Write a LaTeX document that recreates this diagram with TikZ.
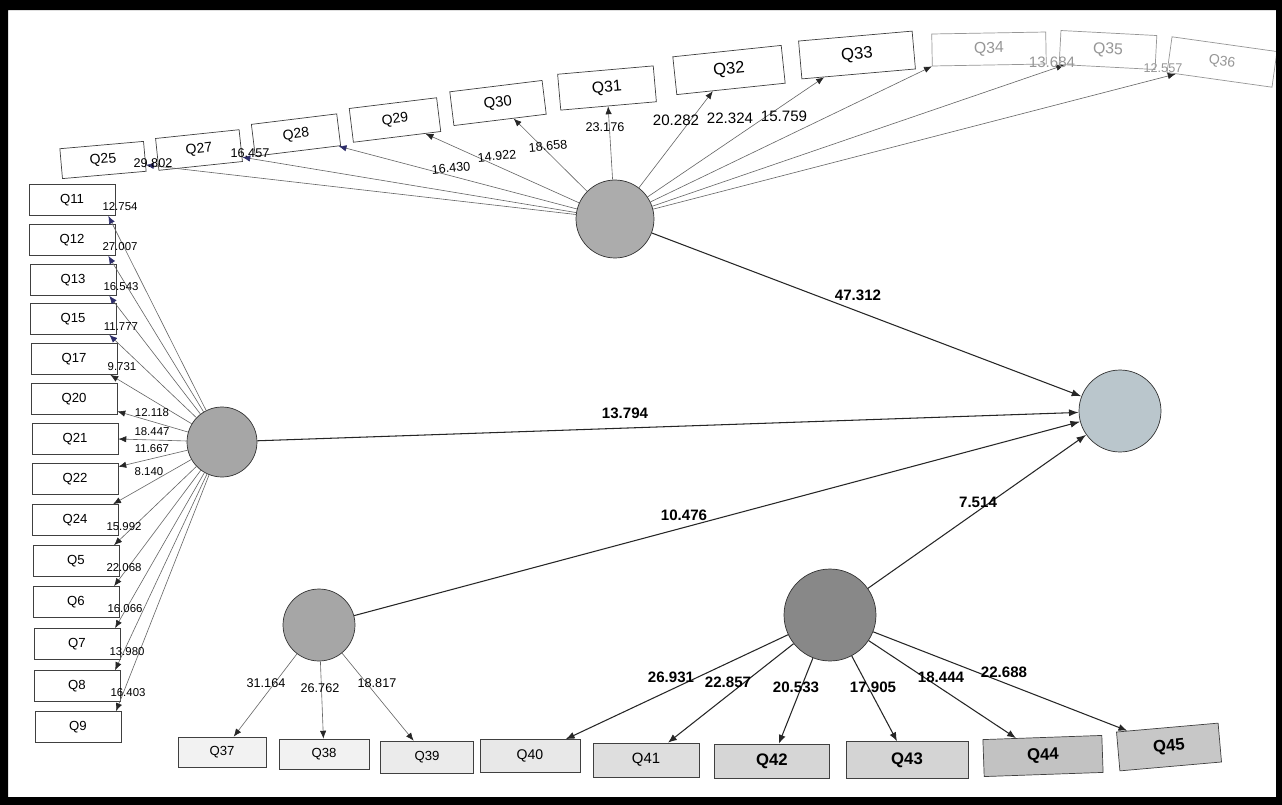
\documentclass[tikz,border=0pt]{standalone}
\usepackage{fontspec}
\setmainfont{Liberation Sans}
\usetikzlibrary{positioning,arrows.meta}

\definecolor{navytip}{RGB}{45,45,105}
\definecolor{latgrey}{RGB}{166,166,166}
\definecolor{topgrey}{RGB}{172,172,172}
\definecolor{endoblue}{RGB}{186,198,204}
\definecolor{darklat}{RGB}{136,136,136}
\definecolor{faint}{RGB}{150,150,150}

\tikzset{
  lat/.style={circle, draw=black!80, fill=latgrey, inner sep=0pt},
  item/.style={draw=black!75, fill=white, inner sep=0pt, minimum width=1.72cm, minimum height=0.62cm, font=\fontsize{7.5}{8}\selectfont},
  fadeitem/.style={item, draw=faint, text=faint},
  load/.style={draw=black!60, line width=0.35pt, -{Latex[length=4.5pt,width=3.6pt,color=black!85]}},
  loadn/.style={load, -{Latex[length=4.5pt,width=3.6pt,color=navytip]}},
  heavy/.style={draw=black!85, line width=0.6pt, -{Latex[length=5pt,width=4pt]}},
  struct/.style={draw=black!85, line width=0.6pt, -{Latex[length=5.5pt,width=4pt]}},
  lab/.style={inner sep=0pt, font=\fontsize{6.5}{7}\selectfont},
  toplab/.style={inner sep=0pt, font=\fontsize{7.2}{8}\selectfont},
  biglab/.style={inner sep=0pt, font=\fontsize{8.6}{9}\selectfont},
  boldlab/.style={inner sep=0pt, font=\fontsize{8.6}{9}\selectfont\bfseries},
}

\begin{document}
\begin{tikzpicture}[x=0.02cm, y=-0.02cm]
\useasboundingbox (0,0) rectangle (1282,805);
\fill[white] (0,0) rectangle (1282,805);

% latent variables
\node[lat, minimum size=1.56cm, fill=topgrey] (tv) at (615,219) {};
\node[lat, minimum size=1.64cm, fill=endoblue] (dv) at (1120,411) {};
\node[lat, minimum size=1.40cm] (lv) at (222,442) {};
\node[lat, minimum size=1.44cm] (bl) at (319,625) {};
\node[lat, minimum size=1.84cm, fill=darklat] (br) at (830,615) {};

% left indicators
\node[item] (q11) at (72,200) {Q11};
\node[item] (q12) at (72,240) {Q12};
\node[item] (q13) at (73,280) {Q13};
\node[item] (q15) at (73,319) {Q15};
\node[item] (q17) at (74,359) {Q17};
\node[item] (q20) at (74,399) {Q20};
\node[item] (q21) at (75,439) {Q21};
\node[item] (q22) at (75,479) {Q22};
\node[item] (q24) at (75,520) {Q24};
\node[item] (q5) at (76,561) {Q5};
\node[item] (q6) at (76,602) {Q6};
\node[item] (q7) at (77,644) {Q7};
\node[item] (q8) at (77,686) {Q8};
\node[item] (q9) at (78,727) {Q9};

% top indicators
\node[item, rotate=5, minimum width=1.68cm, minimum height=0.6cm, font=\fontsize{8}{9}\selectfont] (q25) at (103,160) {Q25};
\node[item, rotate=6, minimum width=1.68cm, minimum height=0.64cm, font=\fontsize{8}{9}\selectfont] (q27) at (199,150) {Q27};
\node[item, rotate=7, minimum width=1.72cm, minimum height=0.64cm, font=\fontsize{8}{9}\selectfont] (q28) at (296,135) {Q28};
\node[item, rotate=7, minimum width=1.76cm, minimum height=0.68cm, font=\fontsize{8}{9}\selectfont] (q29) at (395,120) {Q29};
\node[item, rotate=7, minimum width=1.86cm, minimum height=0.68cm, font=\fontsize{8.5}{9}\selectfont] (q30) at (498,103) {Q30};
\node[item, rotate=5, minimum width=1.92cm, minimum height=0.72cm, font=\fontsize{9}{10}\selectfont] (q31) at (607,88) {Q31};
\node[item, rotate=6, minimum width=2.18cm, minimum height=0.76cm, font=\fontsize{9.5}{10}\selectfont] (q32) at (729,70) {Q32};
\node[item, rotate=5, minimum width=2.28cm, minimum height=0.76cm, font=\fontsize{9.5}{10}\selectfont] (q33) at (857,55) {Q33};
\node[fadeitem, rotate=1, minimum width=2.28cm, minimum height=0.64cm, font=\fontsize{9}{10}\selectfont] (q34) at (989,49) {Q34};
\node[fadeitem, rotate=-3, minimum width=1.92cm, minimum height=0.68cm, font=\fontsize{9}{10}\selectfont] (q35) at (1108,50) {Q35};
\node[fadeitem, rotate=-8, minimum width=2.12cm, minimum height=0.72cm, font=\fontsize{8}{9}\selectfont] (q36) at (1222,62) {Q36};

% bottom indicators
\node[item, fill=black!5, minimum width=1.76cm, minimum height=0.6cm] (q37) at (222,752) {Q37};
\node[item, fill=black!5, minimum width=1.80cm, minimum height=0.6cm] (q38) at (324,754) {Q38};
\node[item, fill=black!8, minimum width=1.86cm, minimum height=0.64cm] (q39) at (427,757) {Q39};
\node[item, fill=black!9, minimum width=2.00cm, minimum height=0.66cm, font=\fontsize{8}{9}\selectfont] (q40) at (530,756) {Q40};
\node[item, fill=black!13, minimum width=2.12cm, minimum height=0.68cm, font=\fontsize{8.5}{9}\selectfont] (q41) at (646,760) {Q41};
\node[item, fill=black!16, minimum width=2.30cm, minimum height=0.68cm, font=\fontsize{9.5}{10}\selectfont\bfseries] (q42) at (772,761) {Q42};
\node[item, fill=black!17, minimum width=2.44cm, minimum height=0.74cm, font=\fontsize{9.5}{10}\selectfont\bfseries] (q43) at (907,760) {Q43};
\node[item, rotate=2, fill=black!24, minimum width=2.38cm, minimum height=0.74cm, font=\fontsize{9.5}{10}\selectfont\bfseries] (q44) at (1043,756) {Q44};
\node[item, rotate=5, fill=black!22, minimum width=2.04cm, minimum height=0.78cm, font=\fontsize{9.5}{10}\selectfont\bfseries] (q45) at (1169,747) {Q45};

% left loadings
\draw[loadn] (lv) -- ([xshift=-4pt]q11.south east);
\draw[loadn] (lv) -- ([xshift=-4pt]q12.south east);
\draw[loadn] (lv) -- ([xshift=-4pt]q13.south east);
\draw[loadn] (lv) -- ([xshift=-4pt]q15.south east);
\draw[load] (lv) -- ([xshift=-4pt]q17.south east);
\draw[load] (lv) -- ([yshift=2pt]q20.south east);
\draw[load] (lv) -- (q21.east);
\draw[load] (lv) -- ([yshift=-2pt]q22.north east);
\draw[load] (lv) -- ([xshift=-3pt]q24.north east);
\draw[load] (lv) -- ([xshift=-3pt]q5.north east);
\draw[load] (lv) -- ([xshift=-3pt]q6.north east);
\draw[load] (lv) -- ([xshift=-3pt]q7.north east);
\draw[load] (lv) -- ([xshift=-3pt]q8.north east);
\draw[load] (lv) -- ([xshift=-3pt]q9.north east);

% top loadings
\draw[loadn] (tv) -- (q25);
\draw[loadn] (tv) -- (q27);
\draw[loadn] (tv) -- (q28);
\draw[load] (tv) -- (q29);
\draw[load] (tv) -- (q30);
\draw[load] (tv) -- (q31);
\draw[load] (tv) -- (q32);
\draw[load] (tv) -- (q33);
\draw[load] (tv) -- (q34.south west);
\draw[load] (tv) -- (q35);
\draw[load] (tv) -- (q36);

% bottom loadings
\draw[load] (bl) -- (q37);
\draw[load] (bl) -- (q38);
\draw[load] (bl) -- (q39);
\draw[heavy] (br) -- (q40);
\draw[heavy] (br) -- (q41);
\draw[heavy] (br) -- (q42);
\draw[heavy] (br) -- (q43);
\draw[heavy] (br) -- (q44);
\draw[heavy] (br) -- (q45);

% inner model
\draw[struct] (tv) -- (dv);
\draw[struct] (lv) -- (dv);
\draw[struct] (bl) -- (dv);
\draw[struct] (br) -- (dv);

% left values
\node[lab] (l11) at (120,207) {12.754};
\node[lab] (l12) at (120,247) {27.007};
\node[lab] (l13) at (121,287) {16.543};
\node[lab] (l15) at (121,327) {11.777};
\node[lab] (l17) at (122,367) {9.731};
\node[lab] (l20) at (152,413) {12.118};
\node[lab] (l21) at (152,432) {18.447};
\node[lab] (l22) at (152,449) {11.667};
\node[lab] (l24) at (149,472) {8.140};
\node[lab] (l5) at (124,527) {15.992};
\node[lab] (l6) at (124,568) {22.068};
\node[lab] (l7) at (125,609) {16.066};
\node[lab] (l8) at (127,652) {13.980};
\node[lab] (l9) at (128,693) {16.403};

% top values
\node[toplab] (l25) at (153,163) {29.802};
\node[toplab] (l27) at (250,153) {16.457};
\node[toplab, rotate=5] (l28) at (451,168) {16.430};
\node[toplab, rotate=5] (l29) at (497,156) {14.922};
\node[toplab, rotate=5] (l30) at (548,146) {18.658};
\node[toplab] (l31) at (605,127) {23.176};
\node[biglab] (l32) at (676,120) {20.282};
\node[biglab] (l33) at (730,118) {22.324};
\node[biglab] (l34) at (784,116) {15.759};
\node[biglab, text=faint] (l35) at (1052,62) {13.684};
\node[toplab, text=faint] (l36) at (1163,68) {12.557};

% bottom values
\node[toplab] (l37) at (266,683) {31.164};
\node[toplab] (l38) at (320,688) {26.762};
\node[toplab] (l39) at (377,683) {18.817};
\node[boldlab] (l40) at (671,677) {26.931};
\node[boldlab] (l41) at (728,682) {22.857};
\node[boldlab] (l42) at (796,687) {20.533};
\node[boldlab] (l43) at (873,687) {17.905};
\node[boldlab] (l44) at (941,677) {18.444};
\node[boldlab] (l45) at (1004,672) {22.688};

% path values
\node[boldlab] (ptd) at (858,295) {47.312};
\node[boldlab] (pld) at (625,413) {13.794};
\node[boldlab] (pbd) at (684,515) {10.476};
\node[boldlab] (prd) at (978,502) {7.514};

% frame
\fill[black, even odd rule] (0,0) rectangle (1282,805) (8,10) rectangle (1276,797);
\end{tikzpicture}
\end{document}
